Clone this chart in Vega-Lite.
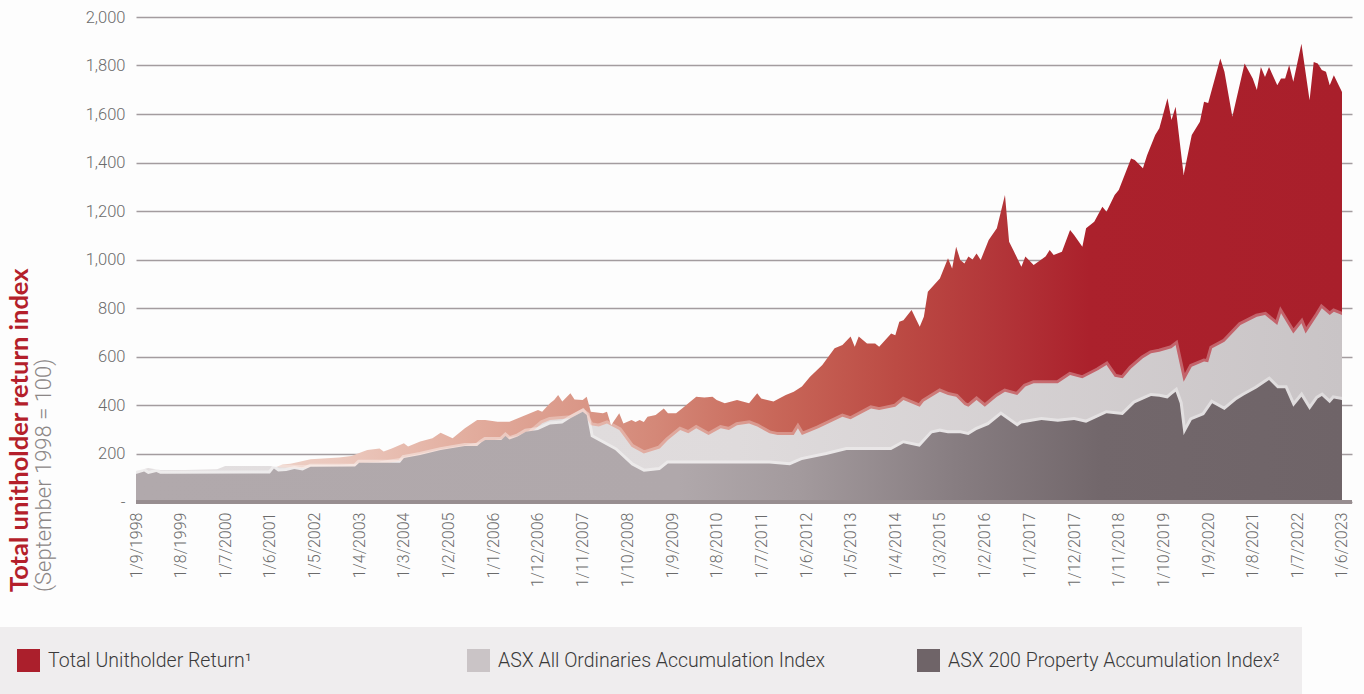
{
  "$schema": "https://vega.github.io/schema/vega-lite/v6.json",
  "width": 1216,
  "height": 485,
  "autosize": "none",
  "padding": {"left": 136, "top": 17, "right": 12, "bottom": 192},
  "background": "#fdfdfd",
  "config": {"view": {"stroke": null}, "font": "Roboto"},
  "title": {
    "text": "Total unitholder return index",
    "subtitle": "(September 1998 = 100)",
    "orient": "left",
    "anchor": "start",
    "frame": "group",
    "font": "Lato",
    "fontSize": 25.5,
    "fontWeight": "bold",
    "color": "#b41f2b",
    "subtitleFont": "Roboto",
    "subtitleFontSize": 22,
    "subtitleFontWeight": 300,
    "subtitleColor": "#8c8787",
    "subtitlePadding": 1,
    "offset": -60,
    "dx": -90
  },
  "datasets": {
    "idx": [
      {"d":"1998-09-01","s":"TUR","v":118},{"d":"1999-01-01","s":"TUR","v":125},{"d":"1999-05-01","s":"TUR","v":118},{"d":"2000-01-01","s":"TUR","v":120},{"d":"2000-09-01","s":"TUR","v":122},{"d":"2001-03-01","s":"TUR","v":128},{"d":"2001-07-01","s":"TUR","v":140},{"d":"2001-09-01","s":"TUR","v":155},{"d":"2001-11-01","s":"TUR","v":158},{"d":"2002-01-01","s":"TUR","v":165},{"d":"2002-04-01","s":"TUR","v":176},{"d":"2002-11-01","s":"TUR","v":184},{"d":"2003-02-01","s":"TUR","v":190},{"d":"2003-05-01","s":"TUR","v":208},{"d":"2003-06-01","s":"TUR","v":214},{"d":"2003-09-01","s":"TUR","v":221},{"d":"2003-10-01","s":"TUR","v":208},{"d":"2003-12-01","s":"TUR","v":221},{"d":"2004-03-01","s":"TUR","v":242},{"d":"2004-04-01","s":"TUR","v":229},{"d":"2004-07-01","s":"TUR","v":249},{"d":"2004-10-01","s":"TUR","v":263},{"d":"2004-12-01","s":"TUR","v":286},{"d":"2005-03-01","s":"TUR","v":263},{"d":"2005-06-01","s":"TUR","v":304},{"d":"2005-09-01","s":"TUR","v":338},{"d":"2005-11-01","s":"TUR","v":338},{"d":"2006-02-01","s":"TUR","v":331},{"d":"2006-05-01","s":"TUR","v":331},{"d":"2006-09-01","s":"TUR","v":359},{"d":"2006-12-01","s":"TUR","v":379},{"d":"2007-01-01","s":"TUR","v":372},{"d":"2007-03-01","s":"TUR","v":407},{"d":"2007-04-01","s":"TUR","v":421},{"d":"2007-05-01","s":"TUR","v":441},{"d":"2007-06-01","s":"TUR","v":414},{"d":"2007-08-01","s":"TUR","v":448},{"d":"2007-09-01","s":"TUR","v":423},{"d":"2007-11-01","s":"TUR","v":421},{"d":"2007-12-01","s":"TUR","v":434},{"d":"2008-01-01","s":"TUR","v":372},{"d":"2008-04-01","s":"TUR","v":366},{"d":"2008-05-01","s":"TUR","v":372},{"d":"2008-06-01","s":"TUR","v":317},{"d":"2008-08-01","s":"TUR","v":366},{"d":"2008-09-01","s":"TUR","v":324},{"d":"2008-11-01","s":"TUR","v":338},{"d":"2008-12-01","s":"TUR","v":330},{"d":"2009-01-01","s":"TUR","v":338},{"d":"2009-02-01","s":"TUR","v":330},{"d":"2009-03-01","s":"TUR","v":352},{"d":"2009-05-01","s":"TUR","v":359},{"d":"2009-07-01","s":"TUR","v":386},{"d":"2009-08-01","s":"TUR","v":366},{"d":"2009-10-01","s":"TUR","v":366},{"d":"2009-12-01","s":"TUR","v":393},{"d":"2010-01-01","s":"TUR","v":407},{"d":"2010-03-01","s":"TUR","v":434},{"d":"2010-05-01","s":"TUR","v":431},{"d":"2010-07-01","s":"TUR","v":434},{"d":"2010-08-01","s":"TUR","v":421},{"d":"2010-10-01","s":"TUR","v":407},{"d":"2011-01-01","s":"TUR","v":421},{"d":"2011-04-01","s":"TUR","v":407},{"d":"2011-06-01","s":"TUR","v":448},{"d":"2011-07-01","s":"TUR","v":427},{"d":"2011-10-01","s":"TUR","v":414},{"d":"2012-01-01","s":"TUR","v":441},{"d":"2012-03-01","s":"TUR","v":455},{"d":"2012-05-01","s":"TUR","v":476},{"d":"2012-07-01","s":"TUR","v":517},{"d":"2012-10-01","s":"TUR","v":565},{"d":"2013-01-01","s":"TUR","v":634},{"d":"2013-03-01","s":"TUR","v":647},{"d":"2013-05-01","s":"TUR","v":682},{"d":"2013-06-01","s":"TUR","v":640},{"d":"2013-07-01","s":"TUR","v":682},{"d":"2013-09-01","s":"TUR","v":654},{"d":"2013-11-01","s":"TUR","v":654},{"d":"2013-12-01","s":"TUR","v":640},{"d":"2014-03-01","s":"TUR","v":695},{"d":"2014-04-01","s":"TUR","v":688},{"d":"2014-05-01","s":"TUR","v":743},{"d":"2014-06-01","s":"TUR","v":750},{"d":"2014-08-01","s":"TUR","v":792},{"d":"2014-10-01","s":"TUR","v":723},{"d":"2014-11-01","s":"TUR","v":764},{"d":"2014-12-01","s":"TUR","v":867},{"d":"2015-03-01","s":"TUR","v":922},{"d":"2015-05-01","s":"TUR","v":1005},{"d":"2015-06-01","s":"TUR","v":963},{"d":"2015-07-01","s":"TUR","v":1053},{"d":"2015-08-01","s":"TUR","v":998},{"d":"2015-09-01","s":"TUR","v":984},{"d":"2015-10-01","s":"TUR","v":1012},{"d":"2015-11-01","s":"TUR","v":1000},{"d":"2015-12-01","s":"TUR","v":1025},{"d":"2016-01-01","s":"TUR","v":998},{"d":"2016-03-01","s":"TUR","v":1080},{"d":"2016-05-01","s":"TUR","v":1129},{"d":"2016-07-01","s":"TUR","v":1266},{"d":"2016-08-01","s":"TUR","v":1073},{"d":"2016-09-01","s":"TUR","v":1039},{"d":"2016-11-01","s":"TUR","v":970},{"d":"2016-12-01","s":"TUR","v":1012},{"d":"2017-02-01","s":"TUR","v":977},{"d":"2017-05-01","s":"TUR","v":1012},{"d":"2017-06-01","s":"TUR","v":1039},{"d":"2017-07-01","s":"TUR","v":1019},{"d":"2017-09-01","s":"TUR","v":1032},{"d":"2017-11-01","s":"TUR","v":1122},{"d":"2017-12-01","s":"TUR","v":1101},{"d":"2018-02-01","s":"TUR","v":1053},{"d":"2018-03-01","s":"TUR","v":1129},{"d":"2018-05-01","s":"TUR","v":1156},{"d":"2018-07-01","s":"TUR","v":1218},{"d":"2018-08-01","s":"TUR","v":1197},{"d":"2018-10-01","s":"TUR","v":1266},{"d":"2018-11-01","s":"TUR","v":1287},{"d":"2019-02-01","s":"TUR","v":1417},{"d":"2019-03-01","s":"TUR","v":1410},{"d":"2019-05-01","s":"TUR","v":1376},{"d":"2019-06-01","s":"TUR","v":1430},{"d":"2019-08-01","s":"TUR","v":1513},{"d":"2019-09-01","s":"TUR","v":1541},{"d":"2019-11-01","s":"TUR","v":1665},{"d":"2019-12-01","s":"TUR","v":1575},{"d":"2020-01-01","s":"TUR","v":1630},{"d":"2020-03-01","s":"TUR","v":1348},{"d":"2020-05-01","s":"TUR","v":1513},{"d":"2020-07-01","s":"TUR","v":1568},{"d":"2020-08-01","s":"TUR","v":1651},{"d":"2020-09-01","s":"TUR","v":1645},{"d":"2020-11-01","s":"TUR","v":1768},{"d":"2020-12-01","s":"TUR","v":1829},{"d":"2021-01-01","s":"TUR","v":1774},{"d":"2021-03-01","s":"TUR","v":1589},{"d":"2021-06-01","s":"TUR","v":1808},{"d":"2021-08-01","s":"TUR","v":1746},{"d":"2021-09-01","s":"TUR","v":1699},{"d":"2021-10-01","s":"TUR","v":1794},{"d":"2021-11-01","s":"TUR","v":1753},{"d":"2021-12-01","s":"TUR","v":1794},{"d":"2022-02-01","s":"TUR","v":1719},{"d":"2022-03-01","s":"TUR","v":1746},{"d":"2022-04-01","s":"TUR","v":1746},{"d":"2022-05-01","s":"TUR","v":1802},{"d":"2022-06-01","s":"TUR","v":1733},{"d":"2022-08-01","s":"TUR","v":1890},{"d":"2022-10-01","s":"TUR","v":1657},{"d":"2022-11-01","s":"TUR","v":1814},{"d":"2022-12-01","s":"TUR","v":1808},{"d":"2023-01-01","s":"TUR","v":1781},{"d":"2023-02-01","s":"TUR","v":1774},{"d":"2023-03-01","s":"TUR","v":1719},{"d":"2023-04-01","s":"TUR","v":1760},{"d":"2023-06-01","s":"TUR","v":1691},

      {"d":"1998-09-01","s":"AO","v":128},{"d":"1998-12-01","s":"AO","v":140},{"d":"1999-03-01","s":"AO","v":132},{"d":"1999-09-01","s":"AO","v":132},{"d":"2000-05-01","s":"AO","v":135},{"d":"2000-07-01","s":"AO","v":148},{"d":"2001-06-01","s":"AO","v":148},{"d":"2001-09-01","s":"AO","v":142},{"d":"2002-01-01","s":"AO","v":140},{"d":"2002-04-01","s":"AO","v":140},{"d":"2002-11-01","s":"AO","v":140},{"d":"2003-03-01","s":"AO","v":145},{"d":"2003-09-01","s":"AO","v":155},{"d":"2004-03-01","s":"AO","v":172},{"d":"2004-07-01","s":"AO","v":186},{"d":"2004-12-01","s":"AO","v":205},{"d":"2005-06-01","s":"AO","v":222},{"d":"2005-10-01","s":"AO","v":235},{"d":"2006-03-01","s":"AO","v":248},{"d":"2006-07-01","s":"AO","v":260},{"d":"2006-10-01","s":"AO","v":282},{"d":"2007-01-01","s":"AO","v":325},{"d":"2007-03-01","s":"AO","v":338},{"d":"2007-08-01","s":"AO","v":345},{"d":"2007-11-01","s":"AO","v":372},{"d":"2008-01-01","s":"AO","v":317},{"d":"2008-03-01","s":"AO","v":311},{"d":"2008-05-01","s":"AO","v":324},{"d":"2008-08-01","s":"AO","v":297},{"d":"2008-11-01","s":"AO","v":228},{"d":"2009-02-01","s":"AO","v":200},{"d":"2009-06-01","s":"AO","v":221},{"d":"2009-08-01","s":"AO","v":256},{"d":"2009-11-01","s":"AO","v":297},{"d":"2010-01-01","s":"AO","v":283},{"d":"2010-03-01","s":"AO","v":304},{"d":"2010-06-01","s":"AO","v":276},{"d":"2010-09-01","s":"AO","v":304},{"d":"2010-11-01","s":"AO","v":297},{"d":"2011-01-01","s":"AO","v":317},{"d":"2011-04-01","s":"AO","v":324},{"d":"2011-06-01","s":"AO","v":311},{"d":"2011-09-01","s":"AO","v":283},{"d":"2011-11-01","s":"AO","v":276},{"d":"2012-03-01","s":"AO","v":276},{"d":"2012-04-01","s":"AO","v":304},{"d":"2012-05-01","s":"AO","v":276},{"d":"2012-09-01","s":"AO","v":304},{"d":"2013-03-01","s":"AO","v":352},{"d":"2013-05-01","s":"AO","v":341},{"d":"2013-10-01","s":"AO","v":386},{"d":"2013-12-01","s":"AO","v":379},{"d":"2014-04-01","s":"AO","v":393},{"d":"2014-06-01","s":"AO","v":421},{"d":"2014-10-01","s":"AO","v":393},{"d":"2014-11-01","s":"AO","v":414},{"d":"2015-03-01","s":"AO","v":455},{"d":"2015-05-01","s":"AO","v":441},{"d":"2015-07-01","s":"AO","v":434},{"d":"2015-09-01","s":"AO","v":400},{"d":"2015-10-01","s":"AO","v":393},{"d":"2015-12-01","s":"AO","v":421},{"d":"2016-02-01","s":"AO","v":393},{"d":"2016-05-01","s":"AO","v":434},{"d":"2016-07-01","s":"AO","v":455},{"d":"2016-10-01","s":"AO","v":441},{"d":"2016-12-01","s":"AO","v":476},{"d":"2017-02-01","s":"AO","v":490},{"d":"2017-08-01","s":"AO","v":490},{"d":"2017-11-01","s":"AO","v":524},{"d":"2018-02-01","s":"AO","v":510},{"d":"2018-06-01","s":"AO","v":544},{"d":"2018-08-01","s":"AO","v":565},{"d":"2018-10-01","s":"AO","v":517},{"d":"2018-12-01","s":"AO","v":510},{"d":"2019-02-01","s":"AO","v":551},{"d":"2019-05-01","s":"AO","v":593},{"d":"2019-07-01","s":"AO","v":613},{"d":"2019-09-01","s":"AO","v":620},{"d":"2019-12-01","s":"AO","v":634},{"d":"2020-01-01","s":"AO","v":647},{"d":"2020-03-01","s":"AO","v":496},{"d":"2020-05-01","s":"AO","v":558},{"d":"2020-08-01","s":"AO","v":579},{"d":"2020-09-01","s":"AO","v":576},{"d":"2020-10-01","s":"AO","v":634},{"d":"2021-01-01","s":"AO","v":661},{"d":"2021-05-01","s":"AO","v":730},{"d":"2021-09-01","s":"AO","v":764},{"d":"2021-11-01","s":"AO","v":771},{"d":"2022-02-01","s":"AO","v":730},{"d":"2022-03-01","s":"AO","v":778},{"d":"2022-06-01","s":"AO","v":695},{"d":"2022-08-01","s":"AO","v":737},{"d":"2022-09-01","s":"AO","v":695},{"d":"2022-12-01","s":"AO","v":771},{"d":"2023-01-01","s":"AO","v":799},{"d":"2023-03-01","s":"AO","v":771},{"d":"2023-04-01","s":"AO","v":785},{"d":"2023-06-01","s":"AO","v":771},

      {"d":"1998-09-01","s":"PROP","v":115},{"d":"1998-11-01","s":"PROP","v":126},{"d":"1998-12-01","s":"PROP","v":115},{"d":"1999-02-01","s":"PROP","v":124},{"d":"1999-03-01","s":"PROP","v":117},{"d":"1999-05-01","s":"PROP","v":117},{"d":"2001-06-01","s":"PROP","v":118},{"d":"2001-07-01","s":"PROP","v":138},{"d":"2001-08-01","s":"PROP","v":126},{"d":"2001-10-01","s":"PROP","v":128},{"d":"2001-12-01","s":"PROP","v":136},{"d":"2002-02-01","s":"PROP","v":130},{"d":"2002-04-01","s":"PROP","v":145},{"d":"2003-03-01","s":"PROP","v":146},{"d":"2003-04-01","s":"PROP","v":162},{"d":"2004-02-01","s":"PROP","v":162},{"d":"2004-03-01","s":"PROP","v":181},{"d":"2004-07-01","s":"PROP","v":194},{"d":"2004-12-01","s":"PROP","v":214},{"d":"2005-06-01","s":"PROP","v":231},{"d":"2005-09-01","s":"PROP","v":231},{"d":"2005-10-01","s":"PROP","v":245},{"d":"2005-11-01","s":"PROP","v":256},{"d":"2006-03-01","s":"PROP","v":256},{"d":"2006-04-01","s":"PROP","v":272},{"d":"2006-05-01","s":"PROP","v":258},{"d":"2006-07-01","s":"PROP","v":270},{"d":"2006-09-01","s":"PROP","v":290},{"d":"2006-12-01","s":"PROP","v":297},{"d":"2007-03-01","s":"PROP","v":320},{"d":"2007-06-01","s":"PROP","v":324},{"d":"2007-08-01","s":"PROP","v":345},{"d":"2007-11-01","s":"PROP","v":372},{"d":"2007-12-01","s":"PROP","v":359},{"d":"2008-01-01","s":"PROP","v":269},{"d":"2008-07-01","s":"PROP","v":214},{"d":"2008-11-01","s":"PROP","v":152},{"d":"2009-02-01","s":"PROP","v":125},{"d":"2009-06-01","s":"PROP","v":132},{"d":"2009-08-01","s":"PROP","v":159},{"d":"2011-09-01","s":"PROP","v":159},{"d":"2012-02-01","s":"PROP","v":152},{"d":"2012-05-01","s":"PROP","v":173},{"d":"2012-11-01","s":"PROP","v":194},{"d":"2013-04-01","s":"PROP","v":214},{"d":"2014-03-01","s":"PROP","v":214},{"d":"2014-06-01","s":"PROP","v":242},{"d":"2014-10-01","s":"PROP","v":228},{"d":"2015-01-01","s":"PROP","v":283},{"d":"2015-03-01","s":"PROP","v":290},{"d":"2015-05-01","s":"PROP","v":283},{"d":"2015-08-01","s":"PROP","v":283},{"d":"2015-10-01","s":"PROP","v":276},{"d":"2015-12-01","s":"PROP","v":297},{"d":"2016-03-01","s":"PROP","v":318},{"d":"2016-06-01","s":"PROP","v":359},{"d":"2016-10-01","s":"PROP","v":311},{"d":"2016-11-01","s":"PROP","v":324},{"d":"2017-04-01","s":"PROP","v":338},{"d":"2017-08-01","s":"PROP","v":331},{"d":"2017-12-01","s":"PROP","v":338},{"d":"2018-03-01","s":"PROP","v":327},{"d":"2018-08-01","s":"PROP","v":366},{"d":"2018-12-01","s":"PROP","v":359},{"d":"2019-03-01","s":"PROP","v":407},{"d":"2019-07-01","s":"PROP","v":437},{"d":"2019-09-01","s":"PROP","v":434},{"d":"2019-11-01","s":"PROP","v":427},{"d":"2019-12-01","s":"PROP","v":441},{"d":"2020-01-01","s":"PROP","v":455},{"d":"2020-02-01","s":"PROP","v":407},{"d":"2020-03-01","s":"PROP","v":276},{"d":"2020-05-01","s":"PROP","v":338},{"d":"2020-08-01","s":"PROP","v":359},{"d":"2020-10-01","s":"PROP","v":407},{"d":"2021-01-01","s":"PROP","v":379},{"d":"2021-04-01","s":"PROP","v":421},{"d":"2021-06-01","s":"PROP","v":441},{"d":"2021-09-01","s":"PROP","v":469},{"d":"2021-12-01","s":"PROP","v":503},{"d":"2022-02-01","s":"PROP","v":469},{"d":"2022-04-01","s":"PROP","v":469},{"d":"2022-06-01","s":"PROP","v":393},{"d":"2022-08-01","s":"PROP","v":434},{"d":"2022-10-01","s":"PROP","v":379},{"d":"2022-12-01","s":"PROP","v":427},{"d":"2023-01-01","s":"PROP","v":437},{"d":"2023-03-01","s":"PROP","v":407},{"d":"2023-04-01","s":"PROP","v":427},{"d":"2023-06-01","s":"PROP","v":421}
    ]
  },
  "data": {"name": "idx"},
  "layer": [
    {
      "transform": [{"filter": "datum.s === 'TUR'"}],
      "mark": {
        "type": "area",
        "color": {
          "gradient": "linear", "x1": 0, "y1": 0, "x2": 1, "y2": 0,
          "stops": [
            {"offset": 0, "color": "#f2dcd4"},
            {"offset": 0.17, "color": "#ebc8bd"},
            {"offset": 0.28, "color": "#e2ac9d"},
            {"offset": 0.43, "color": "#d48878"},
            {"offset": 0.53, "color": "#c86759"},
            {"offset": 0.63, "color": "#bc4b44"},
            {"offset": 0.72, "color": "#b23438"},
            {"offset": 0.79, "color": "#ab212c"},
            {"offset": 1, "color": "#a91f2b"}
          ]
        }
      },
      "encoding": {
        "x": {
          "field": "d", "type": "temporal",
          "scale": {"type": "utc", "domain": [{"year": 1998, "month": 9, "date": 1, "utc": true}, {"year": 2023, "month": 8, "date": 15, "utc": true}]},
          "axis": {
            "title": null, "format": "%-d/%-m/%Y", "labelAngle": 270,
            "labelFont": "Roboto", "labelFontWeight": 300, "labelFontSize": 16, "labelColor": "#6b6b6b",
            "labelPadding": 10, "ticks": false, "domain": false, "grid": false,
            "labelOverlap": false, "labelFlush": false, "labelBound": false,
            "values": [
              {"year":1998,"month":9,"date":1,"utc":true},{"year":1999,"month":8,"date":1,"utc":true},{"year":2000,"month":7,"date":1,"utc":true},{"year":2001,"month":6,"date":1,"utc":true},{"year":2002,"month":5,"date":1,"utc":true},{"year":2003,"month":4,"date":1,"utc":true},{"year":2004,"month":3,"date":1,"utc":true},{"year":2005,"month":2,"date":1,"utc":true},{"year":2006,"month":1,"date":1,"utc":true},{"year":2006,"month":12,"date":1,"utc":true},{"year":2007,"month":11,"date":1,"utc":true},{"year":2008,"month":10,"date":1,"utc":true},{"year":2009,"month":9,"date":1,"utc":true},{"year":2010,"month":8,"date":1,"utc":true},{"year":2011,"month":7,"date":1,"utc":true},{"year":2012,"month":6,"date":1,"utc":true},{"year":2013,"month":5,"date":1,"utc":true},{"year":2014,"month":4,"date":1,"utc":true},{"year":2015,"month":3,"date":1,"utc":true},{"year":2016,"month":2,"date":1,"utc":true},{"year":2017,"month":1,"date":1,"utc":true},{"year":2017,"month":12,"date":1,"utc":true},{"year":2018,"month":11,"date":1,"utc":true},{"year":2019,"month":10,"date":1,"utc":true},{"year":2020,"month":9,"date":1,"utc":true},{"year":2021,"month":8,"date":1,"utc":true},{"year":2022,"month":7,"date":1,"utc":true},{"year":2023,"month":6,"date":1,"utc":true}
            ]
          }
        },
        "y": {
          "field": "v", "type": "quantitative",
          "scale": {"domain": [0, 2000], "nice": false},
          "axis": {
            "title": null, "values": [0,200,400,600,800,1000,1200,1400,1600,1800,2000],
            "labelExpr": "datum.value === 0 ? '-' : format(datum.value, ',')",
            "labelFont": "Roboto", "labelFontWeight": 300, "labelFontSize": 16.5, "labelColor": "#6b6b6b",
            "labelPadding": 11, "ticks": false, "domain": false,
            "grid": true, "gridColor": "#a39c9f", "gridWidth": 1.3
          }
        }
      }
    },
    {
      "transform": [{"filter": "datum.s === 'AO'"}],
      "mark": {"type": "line", "color": "#ffffff", "strokeWidth": 6, "opacity": 0.3},
      "encoding": {
        "x": {"field": "d", "type": "temporal"},
        "y": {"field": "v", "type": "quantitative"}
      }
    },
    {
      "transform": [{"filter": "datum.s === 'AO'"}],
      "mark": {
        "type": "area",
        "color": {
          "gradient": "linear", "x1": 0, "y1": 0, "x2": 1, "y2": 0,
          "stops": [
            {"offset": 0, "color": "#e3dfe0"},
            {"offset": 0.5, "color": "#dfdbdc"},
            {"offset": 1, "color": "#c9c4c6"}
          ]
        }
      },
      "encoding": {
        "x": {"field": "d", "type": "temporal"},
        "y": {"field": "v", "type": "quantitative"}
      }
    },
    {
      "transform": [{"filter": "datum.s === 'PROP'"}],
      "mark": {"type": "line", "color": "#ffffff", "strokeWidth": 6, "opacity": 0.4},
      "encoding": {
        "x": {"field": "d", "type": "temporal"},
        "y": {"field": "v", "type": "quantitative"}
      }
    },
    {
      "transform": [{"filter": "datum.s === 'PROP'"}],
      "mark": {
        "type": "area",
        "color": {
          "gradient": "linear", "x1": 0, "y1": 0, "x2": 1, "y2": 0,
          "stops": [
            {"offset": 0, "color": "#b1a9ac"},
            {"offset": 0.45, "color": "#b0a8ab"},
            {"offset": 0.55, "color": "#a39a9d"},
            {"offset": 0.68, "color": "#877d81"},
            {"offset": 0.8, "color": "#72676b"},
            {"offset": 1, "color": "#6f6468"}
          ]
        }
      },
      "encoding": {
        "x": {"field": "d", "type": "temporal"},
        "y": {"field": "v", "type": "quantitative"}
      }
    },
    {
      "mark": {"type": "rule", "color": "#978d90", "strokeWidth": 3},
      "encoding": {"y": {"datum": 0}}
    },
    {
      "mark": {"type": "point", "shape": "square", "filled": true, "opacity": 0},
      "encoding": {
        "x": {"field": "d", "type": "temporal"},
        "y": {"field": "v", "type": "quantitative"},
        "color": {
          "field": "s", "type": "nominal",
          "scale": {"domain": ["TUR", "AO", "PROP"], "range": ["#ab1f2c", "#cac4c6", "#6f6468"]},
          "legend": {
            "title": null, "orient": "none", "legendX": -141, "legendY": 610,
            "direction": "horizontal", "columns": 3, "gridAlign": "all",
            "columnPadding": 87, "padding": 22, "fillColor": "#efedee",
            "symbolType": "square", "symbolSize": 529, "symbolOpacity": 1, "symbolStrokeWidth": 0,
            "labelFont": "Roboto", "labelFontWeight": 300, "labelFontSize": 19.5, "labelColor": "#3a3a3a",
            "labelOffset": 8, "labelLimit": 500,
            "labelExpr": "datum.label === 'TUR' ? 'Total Unitholder Return¹' : datum.label === 'AO' ? 'ASX All Ordinaries Accumulation Index' : 'ASX 200 Property Accumulation Index²'"
          }
        }
      }
    }
  ]
}
